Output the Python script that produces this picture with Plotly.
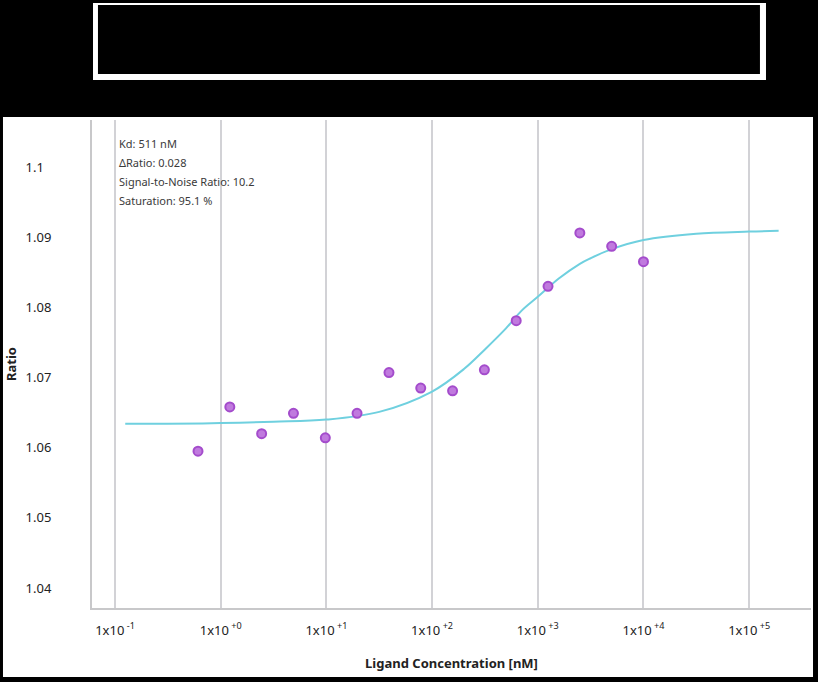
import plotly.graph_objects as go

# measured points (2-fold dilution series, nM)
conc = [0.61, 1.22, 2.44, 4.88, 9.77, 19.5, 39.1, 78.1, 156.3, 312.5,
        625, 1250, 2500, 5000, 10000]
ratio = [1.0595, 1.0658, 1.0620, 1.0649, 1.0614, 1.0649, 1.0707, 1.0685,
         1.0681, 1.0711, 1.0781, 1.0830, 1.0906, 1.0887, 1.0865]

# fitted curve
fit_conc = [0.125, 0.316, 1, 3.16, 10, 31.6, 100, 200, 316, 500, 700,
            1000, 1580, 2500, 3160, 5000, 10000, 31600, 100000, 190000]
fit_ratio = [1.0634, 1.0634, 1.0635, 1.0637, 1.0640, 1.0651, 1.0680, 1.0712,
             1.0740, 1.0770, 1.0795, 1.0815, 1.0841, 1.0862, 1.0870, 1.0883,
             1.0896, 1.0905, 1.0908, 1.0909]

x_tickvals = [0.1, 1, 10, 100, 1000, 10000, 100000]
x_ticktext = ["1x10<sup> -1</sup>", "1x10<sup> +0</sup>", "1x10<sup> +1</sup>",
              "1x10<sup> +2</sup>", "1x10<sup> +3</sup>", "1x10<sup> +4</sup>",
              "1x10<sup> +5</sup>"]
y_tickvals = [1.04, 1.05, 1.06, 1.07, 1.08, 1.09, 1.1]
y_ticktext = ["1.04", "1.05", "1.06", "1.07", "1.08", "1.09", "1.1\u2007"]

fit_info = ["Kd: 511 nM", "\u0394Ratio: 0.028",
            "Signal-to-Noise Ratio: 10.2", "Saturation: 95.1 %"]

font_name = "Noto Sans"
grid_col = "#d2d2d6"

fig = go.Figure()

fig.add_trace(go.Scatter(
    x=fit_conc, y=fit_ratio,
    mode="lines",
    line=dict(color="#6fd0df", width=2, shape="spline"),
    hoverinfo="skip",
    showlegend=False,
))

fig.add_trace(go.Scatter(
    x=conc, y=ratio,
    mode="markers",
    marker=dict(size=9, color="#c07ade", line=dict(color="#a44ccc", width=2)),
    showlegend=False,
))

# white panel behind the chart, and the boxed (blank) title area on top
fig.add_shape(type="rect", xref="paper", yref="paper",
              x0=-0.1238, x1=1.0028, y0=-0.1414, y1=1.0061,
              fillcolor="white", line_width=0, layer="below")
fig.add_shape(type="rect", xref="paper", yref="paper",
              x0=0.0014, x1=0.9374, y0=1.082, y1=1.2398,
              fillcolor="white", line_width=0, layer="below")
fig.add_shape(type="rect", xref="paper", yref="paper",
              x0=0.0083, x1=0.929, y0=1.0943, y1=1.2357,
              fillcolor="black", line_width=0, layer="below")

for i, txt in enumerate(fit_info):
    fig.add_annotation(
        text=txt, xref="x", yref="paper", x=-1, y=1,
        xanchor="left", yanchor="middle", xshift=2, yshift=-23 - 19 * i,
        showarrow=False, font=dict(family=font_name, size=11, color="#3a3a3a"),
    )

fig.update_layout(
    width=818, height=682,
    margin=dict(l=92, r=7, t=120, b=74),
    paper_bgcolor="black",
    plot_bgcolor="white",
    font=dict(family=font_name, size=13, color="#222222"),
    xaxis=dict(
        type="log",
        range=[-1.2176, 5.585],
        tickvals=x_tickvals, ticktext=x_ticktext,
        showgrid=True, gridcolor=grid_col, gridwidth=2,
        showline=True, linecolor="#c8c8ca", linewidth=2,
        ticks="", zeroline=False,
        ticklabelstandoff=9,
        tickfont=dict(size=13, color="#222222"),
        title=dict(text="<b>Ligand Concentration [nM]</b>", standoff=21,
                   font=dict(size=13, color="#222222")),
    ),
    yaxis=dict(
        range=[1.03715, 1.1067],
        tickvals=y_tickvals, ticktext=y_ticktext,
        showgrid=False,
        showline=True, linecolor="#c8c8ca", linewidth=2,
        ticks="", zeroline=False,
        ticklabelstandoff=36,
        tickfont=dict(size=13, color="#222222"),
        title=dict(text="<b>Ratio</b>", standoff=6,
                   font=dict(size=13, color="#222222")),
    ),
)

fig.write_html(
    "out.html",
    config={"displayModeBar": False},
    post_script="document.body.style.margin='0';"
                "document.body.style.background='black';",
)
